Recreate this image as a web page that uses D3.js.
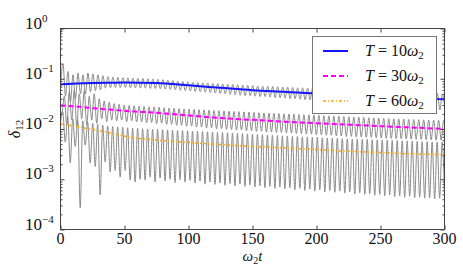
<!DOCTYPE html>
<html lang="en">
<head>
<meta charset="utf-8" />
<title>delta12 vs time</title>
<script src="https://cdn.jsdelivr.net/npm/d3@7"></script>
<style>
  body { margin: 0; background: white; }
</style>
</head>
<body>
<script>

// ---- data ----
var xTicks = [0, 50, 100, 150, 200, 250, 300];
var yTickExps = [0, -1, -2, -3, -4];
var legendTemps = ["10", "30", "60"];

// smooth (averaged) curves
var meanT = [0, 12.5, 25, 37.5, 50, 75, 100, 125, 150, 175, 200, 225, 250, 275, 300];
var meanT10 = [0.077, 0.080, 0.082, 0.083, 0.084, 0.082, 0.074, 0.066, 0.059, 0.055, 0.051, 0.047, 0.044, 0.041, 0.039];
var meanT30 = [0.0295, 0.028, 0.026, 0.0245, 0.023, 0.021, 0.0186, 0.0165, 0.0152, 0.014, 0.013, 0.0122, 0.0114, 0.0107, 0.0100];
var meanT60 = [0.0126, 0.0112, 0.0098, 0.0085, 0.0072, 0.006, 0.0054, 0.0049, 0.0045, 0.0042, 0.0039, 0.0036, 0.0034, 0.0032, 0.0031];

// oscillating raw curves: successive extrema, one every half period
var halfPeriod = 1.95;
var grayStart = [0, -0.95, -0.2];
var grayT10 = [0.07, 0.2, 0.045, 0.14, 0.035, 0.12, 0.04, 0.13, 0.05, 0.12,
  0.05, 0.13, 0.055, 0.125, 0.058, 0.12, 0.06, 0.115, 0.065, 0.11,
  0.066, 0.108, 0.067, 0.106, 0.066, 0.105, 0.067, 0.104, 0.066, 0.103,
  0.066, 0.102, 0.065, 0.101, 0.065, 0.1, 0.064, 0.099, 0.064, 0.098,
  0.063, 0.096, 0.062, 0.094, 0.061, 0.092, 0.06, 0.09, 0.059, 0.088,
  0.058, 0.087, 0.057, 0.085, 0.056, 0.084, 0.055, 0.083, 0.054, 0.082,
  0.053, 0.081, 0.052, 0.08, 0.051, 0.079, 0.05, 0.078, 0.049, 0.077,
  0.048, 0.076, 0.047, 0.075, 0.046, 0.074, 0.046, 0.073, 0.045, 0.072,
  0.044, 0.071, 0.044, 0.07, 0.043, 0.07, 0.042, 0.069, 0.042, 0.068,
  0.041, 0.068, 0.04, 0.067, 0.04, 0.066, 0.039, 0.066, 0.038, 0.065,
  0.038, 0.064, 0.037, 0.064, 0.036, 0.063, 0.036, 0.062, 0.035, 0.062,
  0.034, 0.061, 0.034, 0.06, 0.033, 0.06, 0.032, 0.059, 0.032, 0.058,
  0.031, 0.058, 0.03, 0.057, 0.03, 0.056, 0.029, 0.056, 0.029, 0.055,
  0.028, 0.055, 0.028, 0.054, 0.027, 0.054, 0.027, 0.053, 0.026, 0.053,
  0.026, 0.052, 0.026, 0.052, 0.025, 0.052, 0.025, 0.051, 0.025, 0.051,
  0.024, 0.051, 0.024, 0.05, 0.024];
var grayT30 = [0.03, 0.02, 0.045, 0.012, 0.055, 0.015, 0.06, 0.011, 0.05, 0.016,
  0.058, 0.012, 0.045, 0.015, 0.05, 0.013, 0.04, 0.016, 0.036, 0.014,
  0.034, 0.015, 0.032, 0.0145, 0.031, 0.015, 0.03, 0.014, 0.0295, 0.0145,
  0.029, 0.0138, 0.0285, 0.014, 0.028, 0.0133, 0.0278, 0.0135, 0.0275, 0.0128,
  0.027, 0.013, 0.0266, 0.0123, 0.0262, 0.0124, 0.0258, 0.0118, 0.0255, 0.0119,
  0.0252, 0.0113, 0.0249, 0.0114, 0.0246, 0.0109, 0.0243, 0.011, 0.024, 0.0105,
  0.0237, 0.0106, 0.0234, 0.0101, 0.0232, 0.0102, 0.0229, 0.0098, 0.0226, 0.0098,
  0.0224, 0.0095, 0.0221, 0.0095, 0.0219, 0.0092, 0.0216, 0.0092, 0.0214, 0.0089,
  0.0211, 0.009, 0.0209, 0.0087, 0.0207, 0.0087, 0.0205, 0.0085, 0.0203, 0.0085,
  0.0201, 0.0083, 0.0199, 0.0083, 0.0197, 0.0081, 0.0195, 0.0081, 0.0193, 0.0079,
  0.0191, 0.0079, 0.0189, 0.0077, 0.0187, 0.0077, 0.0185, 0.0075, 0.0183, 0.0075,
  0.0181, 0.0073, 0.0179, 0.0073, 0.0177, 0.0071, 0.0175, 0.0071, 0.0173, 0.0069,
  0.0172, 0.0069, 0.017, 0.0068, 0.0168, 0.0068, 0.0166, 0.0066, 0.0165, 0.0066,
  0.0163, 0.0065, 0.0161, 0.0065, 0.016, 0.0064, 0.0158, 0.0064, 0.0157, 0.0063,
  0.0155, 0.0063, 0.0154, 0.0062, 0.0153, 0.0062, 0.0152, 0.0061, 0.0151, 0.0061,
  0.015, 0.006, 0.0149, 0.006, 0.0148, 0.006];
var grayT60 = [0.012, 0.022, 0.0055, 0.018, 0.0021, 0.016, 0.0045, 0.0155, 0.00027, 0.0145,
  0.0048, 0.0135, 0.0021, 0.013, 0.0018, 0.0125, 0.00049, 0.012, 0.0022, 0.0115,
  0.0014, 0.0112, 0.0015, 0.011, 0.0011, 0.0108, 0.0015, 0.0106, 0.00096, 0.0104,
  0.00088, 0.0103, 0.001, 0.0101, 0.00096, 0.01, 0.0011, 0.0099, 0.00088, 0.0098,
  0.00105, 0.0097, 0.00092, 0.0096, 0.001, 0.0095, 0.00086, 0.0094, 0.00098, 0.0093,
  0.00088, 0.0092, 0.00095, 0.0091, 0.00084, 0.009, 0.00092, 0.0089, 0.0008, 0.0088,
  0.00088, 0.0087, 0.00079, 0.0086, 0.00085, 0.0085, 0.00076, 0.0084, 0.00082, 0.0083,
  0.00074, 0.0082, 0.0008, 0.0081, 0.00072, 0.008, 0.00077, 0.0079, 0.0007, 0.0078,
  0.00074, 0.0077, 0.00068, 0.0076, 0.00072, 0.0075, 0.00066, 0.0074, 0.0007, 0.0073,
  0.00064, 0.0072, 0.00068, 0.0071, 0.00062, 0.0071, 0.00066, 0.007, 0.0006, 0.0069,
  0.00064, 0.0068, 0.00058, 0.0068, 0.00062, 0.0067, 0.00056, 0.0066, 0.0006, 0.0066,
  0.00055, 0.0065, 0.00058, 0.0064, 0.00053, 0.0064, 0.00056, 0.0063, 0.00051, 0.0063,
  0.00054, 0.0062, 0.0005, 0.0062, 0.00052, 0.0061, 0.00048, 0.0061, 0.0005, 0.006,
  0.00047, 0.006, 0.00049, 0.0059, 0.00045, 0.0059, 0.00047, 0.0058, 0.00044, 0.0058,
  0.00046, 0.0057, 0.00043, 0.0057, 0.00044, 0.0056, 0.00042, 0.0056, 0.00043, 0.0055,
  0.00041, 0.0055, 0.00042, 0.0055, 0.0004];

// ---- layout ----
var w = 463;
var h = 278;
var x0 = 60.5, x1 = 444.5, yTop = 28.5, yBot = 229.5;
var serif = "Liberation Serif";

var xScale = d3.scaleLinear().domain([0, 300]).range([x0, x1]);
var yScale = d3.scaleLog().domain([1e-4, 1]).range([yBot, yTop]);

var svg = d3.select("body").append("svg")
            .attr("width", w)
            .attr("height", h)
            .attr("font-family", serif);

svg.append("clipPath").attr("id", "plotclip")
   .append("rect")
   .attr("x", x0).attr("y", yTop)
   .attr("width", x1 - x0).attr("height", yBot - yTop);

var plot = svg.append("g").attr("clip-path", "url(#plotclip)");

// gray oscillating curves
var grays = [grayT10, grayT30, grayT60];
var grayLine = d3.line()
                 .x(function(d) { return xScale(d.t); })
                 .y(function(d) { return yScale(d.v); })
                 .curve(d3.curveMonotoneX);
grays.forEach(function(vals, k) {
  var pts = vals.map(function(v, i) { return {t: grayStart[k] + i * halfPeriod, v: v}; });
  plot.append("path")
      .datum(pts)
      .attr("d", grayLine)
      .attr("fill", "none")
      .attr("stroke", "#8a8a8a")
      .attr("stroke-width", 1);
});

// mean curves
var styles = [
  {vals: meanT10, color: "#1414ff", width: 2, dash: null},
  {vals: meanT30, color: "#ff00ff", width: 2, dash: "5,3"},
  {vals: meanT60, color: "#ffa500", width: 1.5, dash: "3,2,1,2"}
];
var meanLine = d3.line()
                 .x(function(d) { return xScale(d.t); })
                 .y(function(d) { return yScale(d.v); })
                 .curve(d3.curveMonotoneX);
styles.forEach(function(s) {
  var pts = s.vals.map(function(v, i) { return {t: meanT[i], v: v}; });
  plot.append("path")
      .datum(pts)
      .attr("d", meanLine)
      .attr("fill", "none")
      .attr("stroke", s.color)
      .attr("stroke-width", s.width)
      .attr("stroke-dasharray", s.dash);
});

// ---- axes: ticks inside on all four sides ----
var majors = yTickExps.map(function(e) { return Math.pow(10, e); });
var minors = [];
yTickExps.slice(1).forEach(function(e) {
  for (var m = 2; m <= 9; m++) minors.push(m * Math.pow(10, e));
});

function noDomain(g) { g.select(".domain").remove(); }

svg.append("g").attr("transform", "translate(" + x0 + ",0)").attr("color", "#444")
   .call(d3.axisLeft(yScale).tickValues(majors).tickSize(-4).tickFormat("")).call(noDomain);
svg.append("g").attr("transform", "translate(" + x0 + ",0)").attr("color", "#444")
   .call(d3.axisLeft(yScale).tickValues(minors).tickSize(-2).tickFormat("")).call(noDomain);
svg.append("g").attr("transform", "translate(" + x1 + ",0)").attr("color", "#444")
   .call(d3.axisRight(yScale).tickValues(majors).tickSize(-4).tickFormat("")).call(noDomain);
svg.append("g").attr("transform", "translate(" + x1 + ",0)").attr("color", "#444")
   .call(d3.axisRight(yScale).tickValues(minors).tickSize(-2).tickFormat("")).call(noDomain);
svg.append("g").attr("transform", "translate(0," + yTop + ")").attr("color", "#444")
   .call(d3.axisTop(xScale).tickValues(xTicks).tickSize(-4).tickFormat("")).call(noDomain);
svg.append("g").attr("transform", "translate(0," + yBot + ")").attr("color", "#444")
   .call(d3.axisBottom(xScale).tickValues(xTicks).tickSize(-4).tickFormat("")).call(noDomain);

// x tick labels
svg.append("g").selectAll("text")
   .data(xTicks)
   .enter()
   .append("text")
   .attr("x", function(d) { return xScale(d); })
   .attr("y", 244)
   .attr("text-anchor", "middle")
   .attr("fill", "#111")
   .attr("font-family", serif)
   .attr("font-size", 16)
   .text(function(d) { return d; });

// frame
svg.append("rect")
   .attr("x", x0).attr("y", yTop)
   .attr("width", x1 - x0).attr("height", yBot - yTop)
   .attr("fill", "none")
   .attr("stroke", "#444")
   .attr("stroke-width", 1);

// y tick labels 10^k
yTickExps.forEach(function(e) {
  var t = svg.append("text")
             .attr("x", 25)
             .attr("y", yScale(Math.pow(10, e)))
             .attr("fill", "#111")
             .attr("font-family", serif)
             .attr("font-size", 17);
  t.append("tspan").text("10");
  t.append("tspan")
   .attr("dy", -7)
   .attr("font-size", 11)
   .text(e === 0 ? "0" : "\u2212" + (-e));
});

// axis labels
var xl = svg.append("text")
            .attr("x", (x0 + x1) / 2)
            .attr("y", 261)
            .attr("text-anchor", "middle")
            .attr("fill", "#111")
            .attr("font-family", serif)
            .attr("font-size", 15);
xl.append("tspan").attr("font-style", "italic").text("\u03c9");
xl.append("tspan").attr("dy", 3).attr("font-size", 10).text("2");
xl.append("tspan").attr("dy", -3).attr("font-style", "italic").text("t");

var yl = svg.append("text")
            .attr("transform", "translate(20," + ((yTop + yBot) / 2) + ") rotate(-90)")
            .attr("text-anchor", "middle")
            .attr("fill", "#111")
            .attr("font-family", serif)
            .attr("font-size", 16);
yl.append("tspan").attr("font-style", "italic").text("\u03b4");
yl.append("tspan").attr("dy", 3).attr("font-size", 11).text("12");

// ---- legend ----
var lg = svg.append("g");
lg.append("rect")
  .attr("x", 312.5).attr("y", 36.5)
  .attr("width", 124).attr("height", 77)
  .attr("fill", "white")
  .attr("stroke", "#777")
  .attr("stroke-width", 1);
styles.forEach(function(s, i) {
  var ly = 51 + i * 25;
  lg.append("line")
    .attr("x1", 323).attr("x2", 348)
    .attr("y1", ly).attr("y2", ly)
    .attr("stroke", s.color)
    .attr("stroke-width", s.width)
    .attr("stroke-dasharray", s.dash);
  var t = lg.append("text")
            .attr("x", 365)
            .attr("y", ly + 5)
            .attr("fill", "#111")
            .attr("font-family", serif)
            .attr("font-size", 16);
  t.append("tspan").attr("font-style", "italic").text("T");
  t.append("tspan").text(" = " + legendTemps[i]);
  t.append("tspan").attr("font-style", "italic").text("\u03c9");
  t.append("tspan").attr("dy", 3).attr("font-size", 11).text("2");
});

</script>
</body>
</html>
